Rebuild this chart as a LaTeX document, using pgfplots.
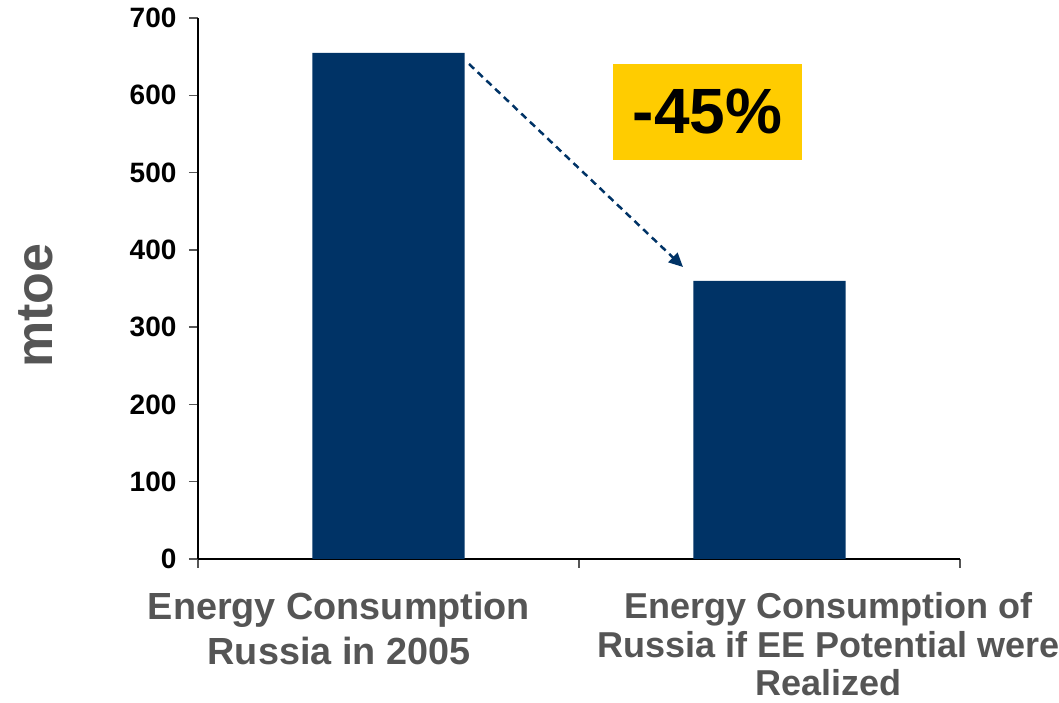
\documentclass[border=0pt]{standalone}
\usepackage{fontspec}
\setmainfont{Liberation Sans}
\usepackage{pgfplots}
\pgfplotsset{compat=1.18}
\usetikzlibrary{arrows.meta}
\definecolor{barblue}{HTML}{003366}
\definecolor{boxyellow}{HTML}{FFCC00}
\definecolor{labgray}{HTML}{555555}
\begin{document}
\begin{tikzpicture}
\path[use as bounding box] (-198pt,-144pt) rectangle (861pt,559pt);
\begin{axis}[
  scale only axis, width=762pt, height=541pt,
  at={(0,0)}, anchor=south west,
  xmin=-0.5, xmax=1.5, ymin=0, ymax=700,
  axis x line*=bottom, axis y line*=left,
  axis line style={-, black, line width=1.5pt},
  /pgf/number format/assume math mode=true,
  tick align=outside,
  major tick length=9pt,
  tick style={labgray, line width=1.5pt},
  ytick={0,100,...,700},
  yticklabel style={font=\fontsize{28}{30}\selectfont\bfseries, text=black, xshift=-9pt},
  xtick={-0.5,0.5,1.5},
  xticklabels={},
  extra x ticks={-0.13,1.154},
  extra x tick labels={{\fontsize{37.8}{45}\selectfont Energy Consumption\\[6.5pt]\fontsize{37.8}{45}\selectfont Russia in 2005},{Energy Consumption of\\Russia if EE Potential were\\Realized}},
  extra x tick style={major tick length=0pt, tick label style={align=center, font=\fontsize{36}{38.5}\selectfont\bfseries, text=labgray, yshift=-30pt}},
  ylabel={mtoe},
  ylabel style={at={(axis description cs:-0.2126,0.468)}, anchor=center, font=\fontsize{52}{56}\selectfont\bfseries, text=labgray},
]
\addplot[ybar, bar width=0.4, fill=barblue, draw=none] coordinates {(0,655) (1,360)};
\draw[barblue, line width=2.5pt, dash pattern=on 7pt off 5pt, -{Triangle[length=14pt,width=13pt]}] (axis cs:0.2113,640.5) -- (axis cs:0.773,377.8);
\node[fill=boxyellow, minimum width=189pt, minimum height=96pt, inner sep=0pt, font=\fontsize{64}{70}\selectfont\bfseries] at (axis cs:0.837,578.4) {-45\%};
\end{axis}
\end{tikzpicture}
\end{document}
